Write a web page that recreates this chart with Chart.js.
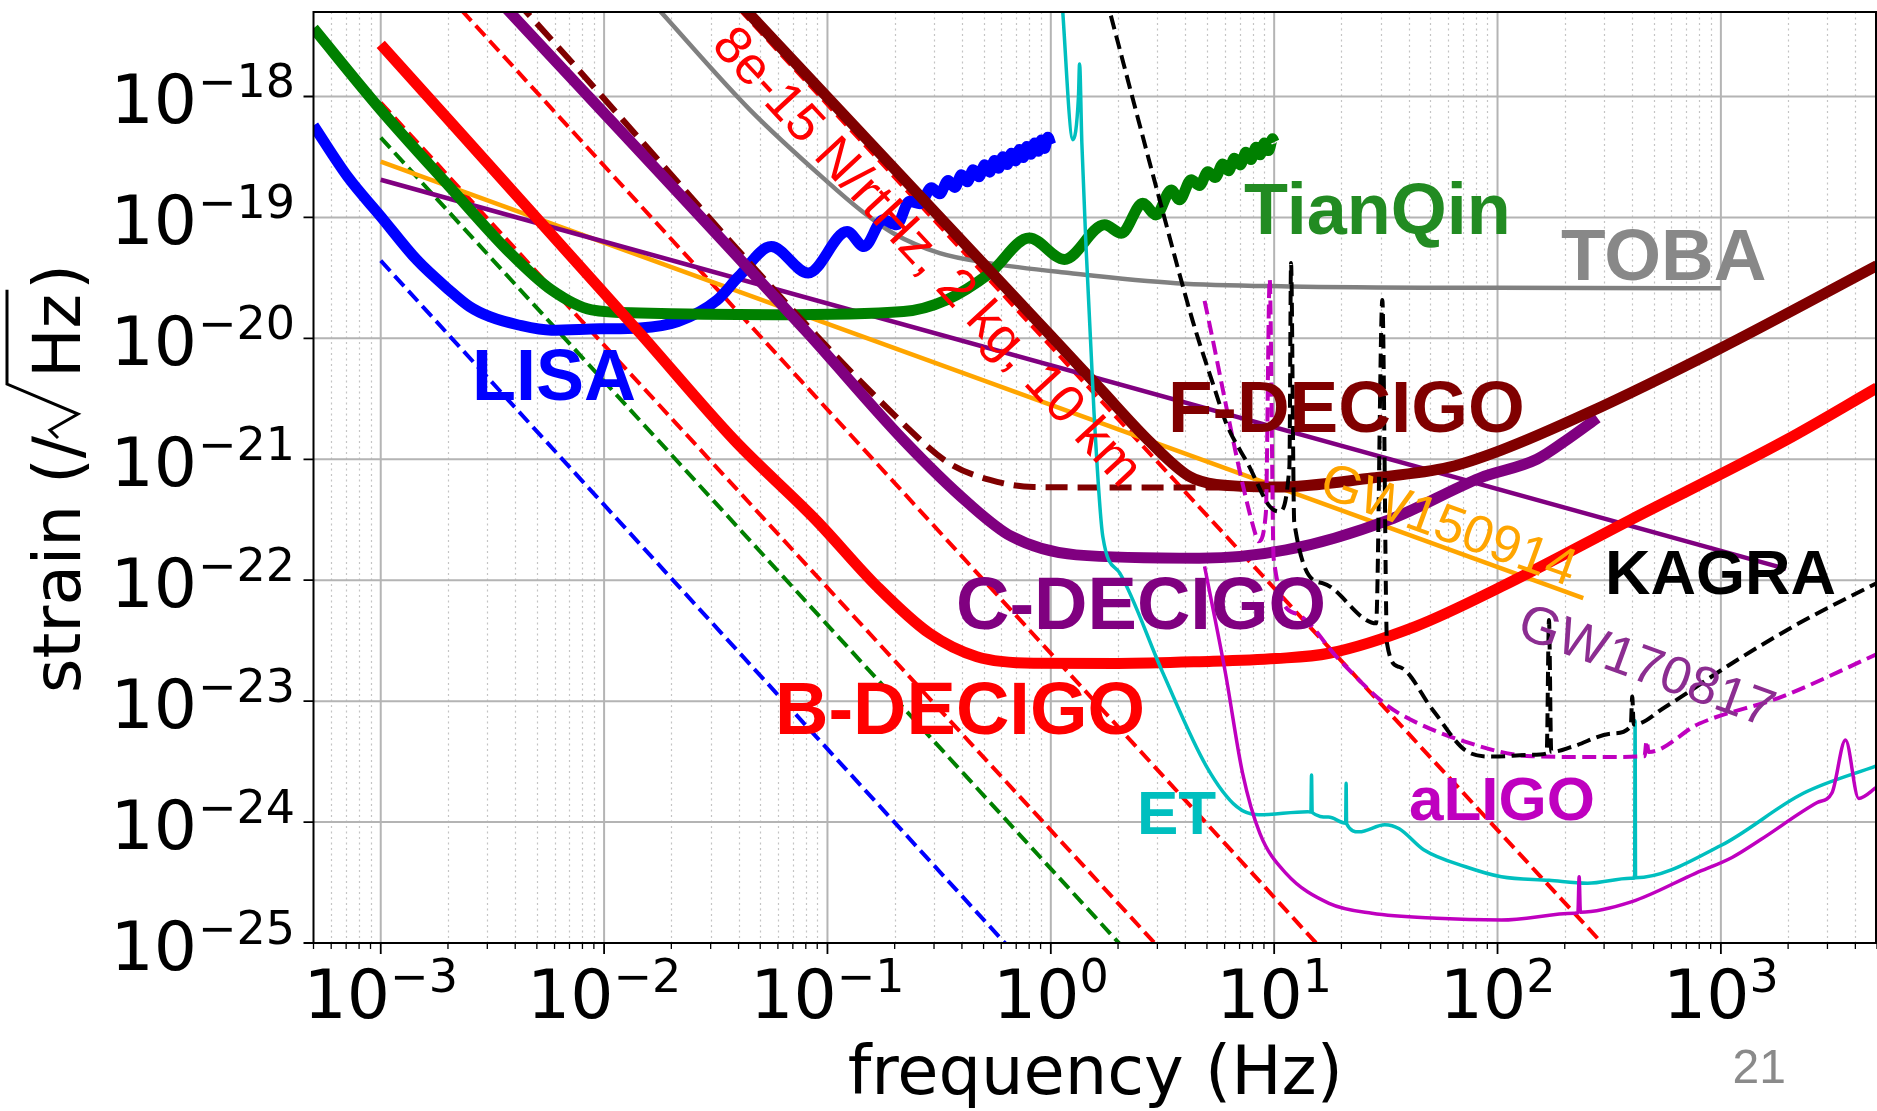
<!DOCTYPE html>
<html><head><meta charset="utf-8">
<script src="https://cdn.jsdelivr.net/npm/chart.js@4.4.1/dist/chart.umd.min.js"></script>
<style>html,body{margin:0;padding:0;background:#fff;}#wrap{width:1877px;height:1111px;}canvas{display:block;}</style>
</head><body><div id="wrap"><canvas id="c" width="1877" height="1111" style="width:1877px;height:1111px"></canvas></div>
<script>
// ---------- axis ranges & ticks ----------
const xMin = 5e-4, xMax = 5e3, yMin = 1e-25, yMax = 5e-18;
const xTickValues = [1e-3, 1e-2, 1e-1, 1, 10, 100, 1000];
const xTickExps = ['\u22123', '\u22122', '\u22121', '0', '1', '2', '3'];
const yTickValues = [1e-25, 1e-24, 1e-23, 1e-22, 1e-21, 1e-20, 1e-19, 1e-18];
const yTickExps = ['\u221225', '\u221224', '\u221223', '\u221222', '\u221221', '\u221220', '\u221219', '\u221218'];
const minorMantissas = [2, 3, 4, 5, 6, 7, 8, 9];
const xDecades = [1e-4, 1e-3, 1e-2, 1e-1, 1, 10, 100, 1000];

// ---------- curves: [frequency (Hz), strain (/rtHz)] ----------
const blueDashed = [[1e-3, 4.39e-20], [0.66, 8.9e-26]];
const greenDashed = [[1e-3, 4.57e-19], [2.2, 8.4e-26]];
const redDashed1 = [[1e-3, 8.9e-19], [3.2, 8.3e-26]];
const redDashed2 = [[2.0e-3, 6.86e-18], [17, 8.2e-26]];
const redDashed3 = [[0.035, 7.0e-18], [320, 8.4e-26]];
const gw150914 = [[1e-3, 2.9e-19], [242, 7.1e-23]];
const gw170817 = [[1e-3, 2.05e-19], [1955, 1.24e-22]];
const toba = [[0.017, 5.6e-18], [0.045, 7.76e-19], [0.1, 1.97e-19], [0.14, 1.16e-19], [0.197, 7.41e-20],
  [0.318, 5.07e-20], [0.53, 4.19e-20], [1.21, 3.47e-20], [3.64, 2.86e-20], [11.7, 2.69e-20], [100, 2.62e-20], [1000, 2.6e-20]];
const lisa = [[5.0e-4, 5.76e-19], [7.1e-4, 2.18e-19], [1.0e-3, 1.02e-19], [1.45e-3, 4.46e-20], [2.02e-3, 2.52e-20],
  [2.5e-3, 1.83e-20], [3.08e-3, 1.51e-20], [4.14e-3, 1.29e-20], [5.8e-3, 1.17e-20], [9.6e-3, 1.2e-20], [1.45e-2, 1.22e-20],
  [2.14e-2, 1.38e-20], [3.21e-2, 2.08e-20], [4.01e-2, 3.25e-20], [5.6e-2, 5.74e-20], [8.2e-2, 3.47e-20], [0.1225, 7.64e-20],
  [0.146, 5.74e-20], [0.1776, 9.55e-20], [0.204, 8.69e-20], [0.233, 1.36e-19], [0.26, 1.3e-19], [0.292, 1.76e-19],
  [0.318, 1.57e-19], [0.347, 2.02e-19], [0.372, 1.77e-19], [0.398, 2.25e-19], [0.423, 1.97e-19], [0.449, 2.48e-19],
  [0.477, 2.17e-19], [0.506, 2.73e-19], [0.532, 2.37e-19], [0.56, 2.96e-19], [0.585, 2.55e-19], [0.61, 3.18e-19],
  [0.638, 2.74e-19], [0.666, 3.4e-19], [0.695, 2.93e-19], [0.724, 3.65e-19], [0.753, 3.13e-19], [0.781, 3.87e-19],
  [0.813, 3.33e-19], [0.847, 4.13e-19], [0.877, 3.53e-19], [0.908, 4.37e-19], [0.938, 3.72e-19], [0.97, 4.6e-19], [1.0, 4.0e-19]];
const tianqin = [[5.0e-4, 3.67e-18], [1e-3, 7.76e-19], [2.03e-3, 1.8e-19], [3.8e-3, 5.07e-20], [5.8e-3, 2.52e-20],
  [8.8e-3, 1.72e-20], [1.45e-2, 1.62e-20], [5.7e-2, 1.57e-20], [0.219, 1.67e-20], [0.341, 2.08e-20], [0.534, 3.47e-20],
  [0.8, 6.75e-20], [1.15, 4.5e-20], [1.74, 8.69e-20], [2.07, 7.41e-20], [2.58, 1.31e-19], [2.96, 1.05e-19], [3.46, 1.69e-19],
  [3.77, 1.4e-19], [4.25, 2.05e-19], [4.63, 1.84e-19], [5.05, 2.39e-19], [5.45, 2.14e-19], [5.89, 2.77e-19], [6.25, 2.43e-19],
  [6.64, 3.09e-19], [7.05, 2.72e-19], [7.48, 3.46e-19], [7.87, 3.01e-19], [8.3, 3.81e-19], [8.65, 3.3e-19], [9.04, 4.12e-19],
  [9.44, 3.57e-19], [9.84, 4.47e-19], [10.0, 4.2e-19]];
const fDecigoDashed = [[4.0e-3, 6.3e-18], [0.261, 1.44e-21], [0.36, 9.0e-22], [0.534, 6.76e-22], [0.836, 5.9e-22], [2.0, 5.85e-22], [7.0, 5.85e-22]];
const cDecigo = [[3.0e-3, 7.9e-18], [8.18e-2, 1.1e-20], [0.219, 1.44e-21], [0.427, 4.34e-22], [0.667, 2.3e-22], [1.3, 1.62e-22],
  [4.63, 1.52e-22], [11.3, 1.78e-22], [32.7, 3.16e-22], [83.3, 7.0e-22], [150, 1.0e-21], [210, 1.5e-21], [280, 2.2e-21]];
const bDecigo = [[1e-3, 2.7e-18], [1.45e-2, 1.1e-20], [3.83e-2, 1.44e-21], [8.95e-2, 3.1e-22], [0.167, 8.85e-23], [0.286, 3.64e-23],
  [0.467, 2.33e-23], [0.835, 2.06e-23], [2.0, 2.05e-23], [4.63, 2.12e-23], [10.2, 2.25e-23], [17.6, 2.49e-23], [42.8, 4.14e-23],
  [104, 8.85e-23], [394, 3.16e-22], [1955, 1.44e-21], [5000, 3.9e-21]];
const fDecigo = [[0.04, 6.0e-18], [1.0, 1.05e-20], [1.65, 3.9e-21], [2.77, 1.4e-21], [4.18, 7.2e-22], [5.5, 6.2e-22], [10.2, 5.9e-22],
  [27.4, 7.0e-22], [60.8, 8.6e-22], [104, 1.19e-21], [253, 2.41e-21], [960, 8.0e-21], [5000, 4.0e-20]];
const et = [[1.12, 6.5e-18], [1.256, 4.4e-19], [1.33, 1.0e-18], [1.345, 1.86e-18], [1.377, 4.15e-19], [1.44, 5.4e-20], [1.56, 2.5e-21],
  [1.71, 2.29e-22], [2.04, 1.14e-22], [3.18, 1.7e-23], [4.98, 2.88e-24], [6.8, 1.34e-24], [8.5, 1.15e-24], [14.1, 1.22e-24],
  [14.6, 1.21e-24], [14.7, 2.45e-24], [14.8, 1.2e-24], [17.5, 1.1e-24], [20.9, 9.8e-25], [21.0, 2.09e-24], [21.1, 9.7e-25],
  [24, 8.3e-25], [31.3, 9.5e-25], [36.3, 8.8e-25], [46.7, 5.9e-25], [72, 4.27e-25], [104, 3.53e-25], [170, 3.3e-25],
  [253, 3.12e-25], [394, 3.43e-25], [411, 3.45e-25], [413, 6.9e-24], [415, 3.46e-25], [1000, 6.4e-25], [2339, 1.73e-24], [5000, 2.93e-24]];
const aligo = [[4.88, 1.3e-22], [6.05, 1.71e-23], [7.22, 2.54e-24], [8.63, 8.07e-25], [11.3, 3.77e-25], [17.6, 2.13e-25],
  [27.4, 1.76e-25], [53.4, 1.6e-25], [104, 1.55e-25], [221, 1.76e-25], [229, 1.78e-25], [232, 3.53e-25], [235, 1.8e-25],
  [400, 2.2e-25], [769, 3.77e-25], [1122, 5.1e-25], [1497, 7.1e-25], [2700, 1.45e-24], [3145, 1.75e-24], [3614, 4.77e-24],
  [4140, 1.57e-24], [5000, 1.95e-24]];
const aligoDashed = [[4.88, 2.04e-20], [8.3, 2.3e-22], [8.5, 2.1e-22], [9.18, 3.6e-22], [9.55, 3.1e-20], [9.95, 1.5e-22],
  [12.5, 5.3e-23], [19.6, 2.19e-23], [29.9, 1.02e-23], [36.3, 7.9e-24], [72.1, 4.6e-24], [143, 3.5e-24], [300, 3.45e-24],
  [455, 3.5e-24], [465, 4.7e-24], [475, 3.8e-24], [798, 6.5e-24], [1880, 1.09e-23], [5000, 2.45e-23]];
const kagra = [[1.76, 6.8e-18], [3.07, 1.4e-19], [4.32, 1.39e-20], [5.5, 3.5e-21], [6.09, 2.0e-21], [7.74, 8.7e-22], [9.53, 4.1e-22],
  [10.5, 3.7e-22], [11.7, 8.7e-22], [11.9, 4.2e-20], [12.3, 3.0e-22], [16.5, 9.45e-23], [25.8, 4.69e-23], [28.6, 4.4e-23],
  [30.5, 2.08e-20], [32.0, 3.0e-23], [36.3, 1.92e-23], [51.2, 8.5e-24], [72.1, 3.9e-24], [95, 3.48e-24], [143, 3.6e-24],
  [166, 3.7e-24], [170, 4.7e-23], [174, 3.8e-24], [216, 4.2e-24], [327, 5.4e-24], [395, 6.2e-24], [401, 1.09e-23],
  [407, 6.4e-24], [566, 9.0e-24], [1122, 2.06e-23], [2233, 4.4e-23], [5000, 9.5e-23]];

// ---------- text ----------
const curveLabels = ['LISA', 'TianQin', 'TOBA', 'F-DECIGO', 'C-DECIGO', 'B-DECIGO', 'KAGRA', 'ET', 'aLIGO'];
const rotatedLabels = ['8e-15 N/rtHz, 2 kg, 10 km', 'GW150914', 'GW170817'];
const xTitle = 'frequency (Hz)';
const pageNumber = '21';

// ---------- layout / styles (not data) ----------
const labelStyle = {
  'LISA': {x: 472, y: 400, size: 72, color: '#0000ff'},
  'TianQin': {x: 1244, y: 234, size: 72, color: '#228b22'},
  'TOBA': {x: 1561, y: 280, size: 73, color: '#888888'},
  'F-DECIGO': {x: 1168, y: 432, size: 73, color: '#800000'},
  'C-DECIGO': {x: 956, y: 629, size: 74, color: '#800080'},
  'B-DECIGO': {x: 775, y: 734, size: 74, color: '#ff0000'},
  'KAGRA': {x: 1605, y: 594, size: 63, color: '#000000'},
  'ET': {x: 1137, y: 834, size: 62, color: '#00bfbf'},
  'aLIGO': {x: 1409, y: 820, size: 62, color: '#bf00bf'}
};
const rotStyle = {
  '8e-15 N/rtHz, 2 kg, 10 km': {cx: 926, cy: 258, deg: 47.2, size: 53, color: '#ff0000'},
  'GW150914': {cx: 1448, cy: 527, deg: 20, size: 53, color: '#ffa500'},
  'GW170817': {cx: 1646, cy: 668, deg: 20, size: 53, color: '#8c2d91'}
};

function pts(a) { return a.map(p => ({x: p[0], y: p[1]})); }
function ds(label, arr, color, width, extra) {
  return Object.assign({label, data: pts(arr), borderColor: color, backgroundColor: color, borderWidth: width,
    pointRadius: 0, pointHoverRadius: 0, fill: false, clip: 0, tension: 0,
    borderJoinStyle: 'round', borderCapStyle: 'butt'}, extra || {});
}
const smooth = {cubicInterpolationMode: 'monotone'};
const dash = (a) => ({borderDash: a});

// back-to-front order
const datasets = [
  ds('blue dashed', blueDashed, '#0000ff', 4, dash([14, 6.5])),
  ds('green dashed', greenDashed, '#008000', 4, dash([14, 6.5])),
  ds('red dashed 1', redDashed1, '#ff0000', 4, dash([14, 6.5])),
  ds('red dashed 2', redDashed2, '#ff0000', 4, dash([14, 6.5])),
  ds('red dashed 3', redDashed3, '#ff0000', 4, dash([14, 6.5])),
  ds('GW150914', gw150914, '#ffa500', 4.5),
  ds('GW170817', gw170817, '#800080', 4.5),
  ds('TOBA', toba, '#808080', 4.5, smooth),
  ds('LISA', lisa, '#0000ff', 11, smooth),
  ds('TianQin', tianqin, '#008000', 11, smooth),
  ds('F-DECIGO (dashed)', fDecigoDashed, '#800000', 6, Object.assign({}, smooth, dash([22, 10]))),
  ds('C-DECIGO', cDecigo, '#800080', 11, smooth),
  ds('B-DECIGO', bDecigo, '#ff0000', 11, smooth),
  ds('F-DECIGO', fDecigo, '#800000', 11, smooth),
  ds('ET', et, '#00bfbf', 3.5, smooth),
  ds('aLIGO', aligo, '#bf00bf', 3.5, smooth),
  ds('aLIGO (dashed)', aligoDashed, '#bf00bf', 4, Object.assign({}, smooth, dash([14, 6.5]))),
  ds('KAGRA', kagra, '#000000', 4, Object.assign({}, smooth, dash([14, 6.5])))
];
datasets.forEach((d, i) => { d.order = datasets.length - i; });

const TICKFONT = '"DejaVu Sans"';

const mplPlugin = {
  id: 'mplAxes',
  beforeDatasetsDraw(chart) {
    const {ctx, chartArea: a} = chart; const xs = chart.scales.x, ys = chart.scales.y;
    ctx.save();
    ctx.beginPath(); ctx.rect(a.left, a.top, a.right - a.left, a.bottom - a.top); ctx.clip();
    ctx.lineWidth = 1.2; ctx.strokeStyle = '#c4c4c4'; ctx.setLineDash([2, 3.5]);
    ctx.beginPath();
    xDecades.forEach(d => minorMantissas.forEach(m => {
      const v = d * m; if (v <= xMin || v >= xMax) return;
      const p = Math.round(xs.getPixelForValue(v)) + 0.5;
      ctx.moveTo(p, a.top); ctx.lineTo(p, a.bottom);
    }));
    ctx.stroke();
    ctx.setLineDash([]); ctx.lineWidth = 2; ctx.strokeStyle = '#b4b4b4';
    ctx.beginPath();
    xTickValues.forEach(v => { const p = xs.getPixelForValue(v); ctx.moveTo(p, a.top); ctx.lineTo(p, a.bottom); });
    yTickValues.forEach(v => { const p = ys.getPixelForValue(v); ctx.moveTo(a.left, p); ctx.lineTo(a.right, p); });
    ctx.stroke();
    ctx.restore();
  },
  afterDatasetsDraw(chart) {
    const {ctx, chartArea: a} = chart; const xs = chart.scales.x, ys = chart.scales.y;
    ctx.save();
    ctx.strokeStyle = '#000'; ctx.lineWidth = 2; ctx.setLineDash([]);
    ctx.strokeRect(a.left, a.top, a.right - a.left - 1, a.bottom - a.top);
    ctx.beginPath(); ctx.lineWidth = 1.8;
    xTickValues.forEach(v => { const p = xs.getPixelForValue(v); ctx.moveTo(p, a.bottom); ctx.lineTo(p, a.bottom + 11); });
    yTickValues.forEach(v => { const p = ys.getPixelForValue(v); ctx.moveTo(a.left, p); ctx.lineTo(a.left - 10, p); });
    ctx.stroke();
    ctx.beginPath(); ctx.lineWidth = 1.3;
    xDecades.forEach(d => minorMantissas.forEach(m => {
      const v = d * m; if (v < xMin || v > xMax) return;
      const p = xs.getPixelForValue(v); ctx.moveTo(p, a.bottom); ctx.lineTo(p, a.bottom + 6);
    }));
    ctx.stroke();
    ctx.fillStyle = '#000'; ctx.textBaseline = 'alphabetic';
    yTickValues.forEach((v, i) => {
      const p = ys.getPixelForValue(v);
      ctx.font = '46px ' + TICKFONT; const ws = ctx.measureText(yTickExps[i]).width;
      const sx = 295 - ws;
      ctx.textAlign = 'left'; ctx.fillText(yTickExps[i], sx, p + 0.5);
      ctx.font = '68px ' + TICKFONT; ctx.textAlign = 'right'; ctx.fillText('10', sx - 1, p + 26.6);
    });
    xTickValues.forEach((v, i) => {
      const p = xs.getPixelForValue(v);
      ctx.font = '68px ' + TICKFONT; const w10 = ctx.measureText('10').width;
      ctx.font = '46px ' + TICKFONT; const ws = ctx.measureText(xTickExps[i]).width;
      const sx = p - (w10 + ws) / 2;
      ctx.textAlign = 'left';
      ctx.font = '68px ' + TICKFONT; ctx.fillText('10', sx, 1018);
      ctx.font = '46px ' + TICKFONT; ctx.fillText(xTickExps[i], sx + w10, 992);
    });
    ctx.font = '67px ' + TICKFONT; ctx.textAlign = 'center';
    ctx.fillText(xTitle, (a.left + a.right) / 2, 1094);
    ctx.save();
    ctx.translate(80, 478.5); ctx.rotate(-Math.PI / 2);
    ctx.font = '66px ' + TICKFONT; ctx.textAlign = 'left';
    const A = 'strain (/', H = 'Hz', P = ')';
    const wA = ctx.measureText(A).width, wH = ctx.measureText(H).width, wP = ctx.measureText(P).width;
    const radW = 58, total = wA + radW + wH + 4 + wP;
    const u0 = -total / 2, r0 = u0 + wA;
    ctx.fillText(A, u0, 0);
    ctx.fillText(H, r0 + radW, 0);
    ctx.fillText(P, r0 + radW + wH + 4, 0);
    ctx.strokeStyle = '#000'; ctx.lineWidth = 3; ctx.lineJoin = 'miter';
    ctx.beginPath();
    ctx.moveTo(r0 - 2, -22); ctx.lineTo(r0 + 6, -30); ctx.lineTo(r0 + 22, -2); ctx.lineTo(r0 + 52, -73);
    ctx.lineTo(r0 + radW + wH + 4, -73);
    ctx.stroke();
    ctx.restore();
    ctx.textAlign = 'left'; ctx.textBaseline = 'alphabetic';
    curveLabels.forEach(t => {
      const s = labelStyle[t];
      ctx.font = 'bold ' + s.size + 'px "Liberation Sans", Arial, sans-serif';
      ctx.fillStyle = s.color; ctx.fillText(t, s.x, s.y);
    });
    rotatedLabels.forEach(t => {
      const s = rotStyle[t];
      ctx.save(); ctx.translate(s.cx, s.cy); ctx.rotate(s.deg * Math.PI / 180);
      ctx.font = s.size + 'px "Liberation Sans", Arial, sans-serif';
      ctx.fillStyle = s.color; ctx.textAlign = 'center'; ctx.textBaseline = 'middle';
      ctx.fillText(t, 0, 0); ctx.restore();
    });
    ctx.font = '48px "Liberation Sans", Arial, sans-serif'; ctx.fillStyle = '#8a8a8a';
    ctx.textAlign = 'right'; ctx.textBaseline = 'alphabetic';
    ctx.fillText(pageNumber, 1786, 1083);
    ctx.restore();
  }
};

new Chart(document.getElementById('c'), {
  type: 'line',
  data: {datasets},
  options: {
    responsive: false, devicePixelRatio: 1, animation: false, events: [],
    layout: {padding: {top: 12, right: 0, bottom: 0, left: 0}},
    plugins: {legend: {display: false}, tooltip: {enabled: false}, title: {display: false}},
    scales: {
      x: {type: 'logarithmic', min: xMin, max: xMax, grid: {display: false}, border: {display: false},
          ticks: {display: false}, afterFit(s) { s.height = 168; }},
      y: {type: 'logarithmic', min: yMin, max: yMax, grid: {display: false}, border: {display: false},
          ticks: {display: false}, afterFit(s) { s.width = 313.5; }}
    }
  },
  plugins: [mplPlugin]
});
</script></body></html>
